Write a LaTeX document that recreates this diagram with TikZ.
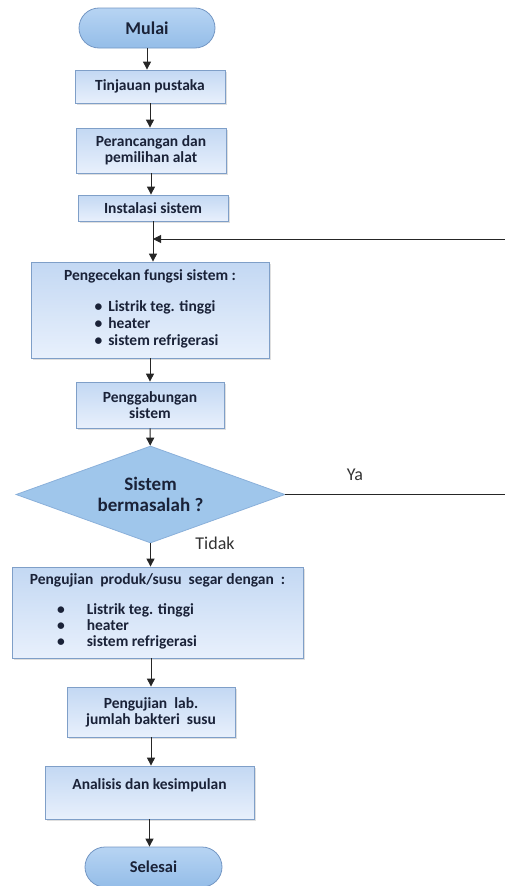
\documentclass[tikz,border=0pt]{standalone}
\usepackage{fontspec}
\setmainfont{Carlito}
\usetikzlibrary{arrows.meta,shapes.geometric,shadows}
\definecolor{boxtop}{HTML}{C3D8F3}
\definecolor{boxbot}{HTML}{E8F0FC}
\definecolor{boxline}{HTML}{7F9FC8}
\definecolor{termtop}{HTML}{B7D4F3}
\definecolor{termbot}{HTML}{94BDE8}
\definecolor{termline}{HTML}{7497C4}
\definecolor{decfill}{HTML}{9FC6EB}
\definecolor{decline}{HTML}{8AB0DA}
\definecolor{ink}{HTML}{1A2238}

\begin{document}
\begin{tikzpicture}[x=1pt, y=-1pt,
	proc/.style={draw=boxline, line width=0.8pt, top color=boxtop, bottom color=boxbot,
		text=ink, font=\bfseries\fontsize{15.5}{16}\selectfont, align=center, inner sep=0pt,
		drop shadow={shadow xshift=1.5pt, shadow yshift=-1.5pt, opacity=0.25}},
	term/.style={draw=termline, line width=0.8pt, top color=termtop, bottom color=termbot,
		rounded corners=20pt, text=ink, inner sep=0pt, minimum height=40pt},
	dec/.style={draw=decline, line width=0.8pt, fill=decfill, shape=diamond, aspect=2.77,
		inner sep=0pt, text=ink, align=center, font=\bfseries\fontsize{19}{21}\selectfont},
	answer/.style={text=black!80, font=\fontsize{18}{20}\selectfont},
	arr/.style={-{Triangle[width=8pt,length=8pt]}, line width=1pt, draw=black!85}]
			%%%%% START %%%%%
			
			\useasboundingbox (0,0) rectangle (505,886);
			
			\node[term, minimum width=136pt, font=\bfseries\fontsize{18}{20}\selectfont] (mulai) at (147,28) {Mulai};
			\node[proc, minimum width=150pt, minimum height=33pt] (tinjau) at (150,86.5) {Tinjauan pustaka};
			\node[proc, minimum width=150pt, minimum height=45pt] (ranc) at (151,150.5) {Perancangan dan\\pemilihan alat};
			\node[proc, minimum width=150pt, minimum height=26pt] (inst) at (153,208) {Instalasi sistem};
			
			\node[proc, minimum width=238pt, minimum height=96pt] (cek) at (150,310) {Pengecekan fungsi sistem :\\[15pt]\hspace*{13pt}\begin{tabular}[t]{@{}l@{\hspace{6pt}}l@{}}
					\textbullet & Listrik teg. tinggi\\[1pt]
					\textbullet & heater\\[1pt]
					\textbullet & sistem refrigerasi
				\end{tabular}};
			\node[proc, minimum width=148pt, minimum height=46pt] (gab) at (150,405) {Penggabungan\\sistem};
			\node[dec, minimum width=269pt, minimum height=97pt] (dec) at (150.5,494.5) {Sistem\\bermasalah ?};
			
			\node[proc, minimum width=291pt, minimum height=91pt] (uji) at (157.5,612.5) {Pengujian\ \ produk/susu\ \ segar dengan\ \ :\\[14pt]\hspace*{-61pt}\begin{tabular}[t]{@{}l@{\hspace{22pt}}l@{}}
					\textbullet & Listrik teg. tinggi\\
					\textbullet & heater\\
					\textbullet & sistem refrigerasi
				\end{tabular}};
			\node[proc, minimum width=168pt, minimum height=50pt] (lab) at (151,712) {Pengujian\ \ lab.\\jumlah bakteri\ \ susu};
			\node[proc, minimum width=209pt, minimum height=53pt] (anal) at (149.5,792.5) {Analisis dan kesimpulan\\\rule{0pt}{10pt}};
			\node[term, minimum width=137pt, font=\bfseries\fontsize{16.5}{18}\selectfont] (selesai) at (153.5,867) {Selesai};
			
			\node[answer] (ya) at (355,475) {Ya};
			\node[answer] (tidak) at (215,543) {Tidak};
			
			\coordinate (back) at (inst.south |- 0,239);
			
			\draw[arr] (mulai) -- (mulai |- tinjau.north);
			\draw[arr] (tinjau) -- (tinjau |- ranc.north);
			\draw[arr] (ranc) -- (ranc |- inst.north);
			\draw[arr] (inst) -- (inst |- cek.north);
			\draw[arr] (cek) -- (cek |- gab.north);
			\draw[arr] (gab) -- (dec);
			\draw[arr] (dec) -- (dec |- uji.north);
			\draw[arr] (uji.south -| lab) -- (lab);
			\draw[arr] (lab) -- (lab |- anal.north);
			\draw[arr] (anal) -- (anal |- selesai.north);
			\draw[arr] (dec.east) -- ++(224,0) |- (back);
			
			%%%%% END %%%%%
\end{tikzpicture}
\end{document}
